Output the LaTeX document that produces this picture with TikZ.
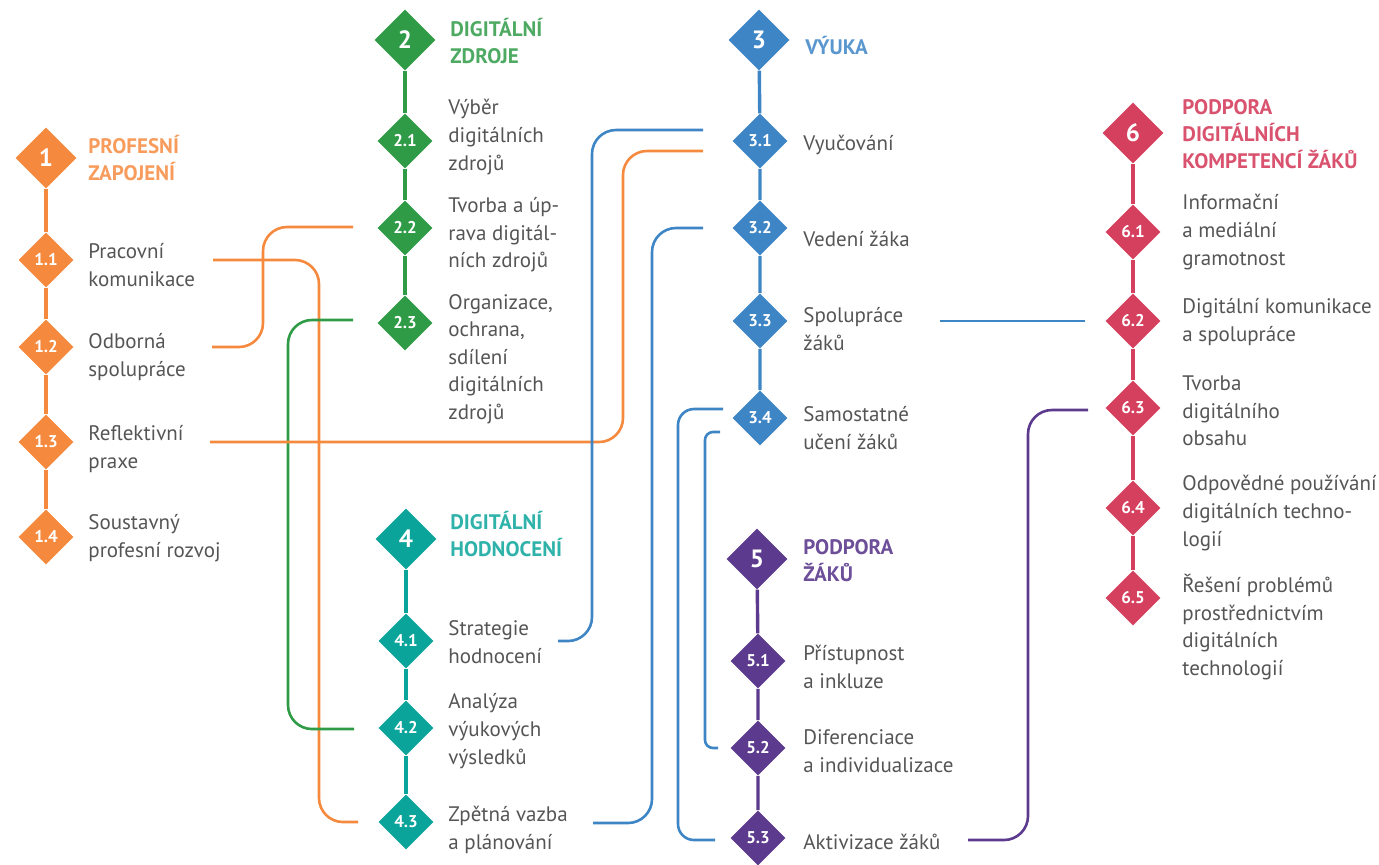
\documentclass[tikz,border=0pt]{standalone}
\usepackage{fontspec}
\setmainfont{PT Sans}
\usetikzlibrary{shapes.geometric,calc}

\definecolor{profcol}{HTML}{F58A3F}
\definecolor{zdrojcol}{HTML}{2F9B47}
\definecolor{vyukacol}{HTML}{3E85C6}
\definecolor{hodncol}{HTML}{0AA49B}
\definecolor{podpcol}{HTML}{5C3A8E}
\definecolor{kompcol}{HTML}{D5405F}
\definecolor{textcol}{HTML}{555555}

\begin{document}
\begin{tikzpicture}[x=0.5pt,y=-0.5pt]

	\tikzstyle{areabox}=[diamond,aspect=1,inner sep=0pt,
		minimum size=30.5pt,text=white,
		font=\bfseries\fontsize{12.5}{12.5}\selectfont]
	\tikzstyle{itembox}=[diamond,aspect=1,inner sep=0pt,
		minimum size=27.5pt,text=white,
		font=\bfseries\fontsize{8.5}{8.5}\selectfont]
	\tikzstyle{heading}=[anchor=west,align=left,inner sep=0pt,
		font=\bfseries\fontsize{10.5}{13.5}\selectfont]
	\tikzstyle{desc}=[anchor=west,align=left,inner sep=0pt,text=textcol,
		font=\fontsize{10.5}{13.8}\selectfont]
	\tikzstyle{spine}=[line width=1.7pt]
	\tikzstyle{link}=[line width=1.3pt,rounded corners=12pt]

	\useasboundingbox (0,0) rectangle (1379,864);

	% 1 profesni zapojeni
	\node[areabox,fill=profcol]	(d1)	at (46,158)	{1};
	\node[itembox,fill=profcol]	(d11)	at (46,260)	{1.1};
	\node[itembox,fill=profcol]	(d12)	at (46,347)	{1.2};
	\node[itembox,fill=profcol]	(d13)	at (46,442)	{1.3};
	\node[itembox,fill=profcol]	(d14)	at (46,537)	{1.4};
	\draw[spine,profcol] (d1) -- (d11) -- (d12) -- (d13) -- (d14);
	\node[heading,text=profcol!85]	(h1)	at (88,158)	{PROFESNÍ\\ZAPOJENÍ};
	\node[desc]	(t11)	at (88,265)	{Pracovní\\komunikace};
	\node[desc]	(t12)	at (88,357)	{Odborná\\spolupráce};
	\node[desc]	(t13)	at (88,449)	{Reflektivní\\praxe};
	\node[desc]	(t14)	at (88,538)	{Soustavný\\profesní rozvoj};

	% 2 digitalni zdroje
	\node[areabox,fill=zdrojcol]	(d2)	at (405,40)	{2};
	\node[itembox,fill=zdrojcol]	(d21)	at (405,141)	{2.1};
	\node[itembox,fill=zdrojcol]	(d22)	at (405,228)	{2.2};
	\node[itembox,fill=zdrojcol]	(d23)	at (405,323)	{2.3};
	\draw[spine,zdrojcol] (d2) -- (d21) -- (d22) -- (d23);
	\node[heading,text=zdrojcol!85]	(h2)	at (450,41)	{DIGITÁLNÍ\\ZDROJE};
	\node[desc]	(t21)	at (448,137)	{Výběr\\digitálních\\zdrojů};
	\node[desc]	(t22)	at (448,235)	{Tvorba a úp-\\rava digitál-\\ních zdrojů};
	\node[desc]	(t23)	at (448,359)	{Organizace,\\ochrana,\\sdílení\\digitálních\\zdrojů};

	% 3 vyuka
	\node[areabox,fill=vyukacol]	(d3)	at (759,40)	{3};
	\node[itembox,fill=vyukacol]	(d31)	at (760,141)	{3.1};
	\node[itembox,fill=vyukacol]	(d32)	at (760,228)	{3.2};
	\node[itembox,fill=vyukacol]	(d33)	at (760,321)	{3.3};
	\node[itembox,fill=vyukacol]	(d34)	at (760,418)	{3.4};
	\draw[spine,vyukacol] (d3) -- (d31) -- (d32) -- (d33) -- (d34);
	\node[heading,text=vyukacol!85]	(h3)	at (805,45)	{VÝUKA};
	\node[desc]	(t31)	at (803,145)	{Vyučování};
	\node[desc]	(t32)	at (803,239)	{Vedení žáka};
	\node[desc]	(t33)	at (803,329)	{Spolupráce\\žáků};
	\node[desc]	(t34)	at (803,428)	{Samostatné\\učení žáků};

	% 4 digitalni hodnoceni
	\node[areabox,fill=hodncol]	(d4)	at (406,539)	{4};
	\node[itembox,fill=hodncol]	(d41)	at (406,641)	{4.1};
	\node[itembox,fill=hodncol]	(d42)	at (406,728)	{4.2};
	\node[itembox,fill=hodncol]	(d43)	at (406,822)	{4.3};
	\draw[spine,hodncol] (d4) -- (d41) -- (d42) -- (d43);
	\node[heading,text=hodncol!85]	(h4)	at (450,534)	{DIGITÁLNÍ\\HODNOCENÍ};
	\node[desc]	(t41)	at (448,642)	{Strategie\\hodnocení};
	\node[desc]	(t42)	at (448,731)	{Analýza\\výukových\\výsledků};
	\node[desc]	(t43)	at (448,830)	{Zpětná vazba\\a plánování};

	% 5 podpora zaku
	\node[areabox,fill=podpcol]	(d5)	at (757,559)	{5};
	\node[itembox,fill=podpcol]	(d51)	at (758,661)	{5.1};
	\node[itembox,fill=podpcol]	(d52)	at (758,748)	{5.2};
	\node[itembox,fill=podpcol]	(d53)	at (758,838)	{5.3};
	\draw[spine,podpcol] (d5) -- (d51) -- (d52) -- (d53);
	\node[heading,text=podpcol!90]	(h5)	at (803,561)	{PODPORA\\ŽÁKŮ};
	\node[desc]	(t51)	at (803,667)	{Přístupnost\\a inkluze};
	\node[desc]	(t52)	at (803,751)	{Diferenciace\\a individualizace};
	\node[desc]	(t53)	at (803,842)	{Aktivizace žáků};

	% 6 podpora digitalnich kompetenci
	\node[areabox,fill=kompcol]	(d6)	at (1133,133)	{6};
	\node[itembox,fill=kompcol]	(d61)	at (1133,232)	{6.1};
	\node[itembox,fill=kompcol]	(d62)	at (1133,321)	{6.2};
	\node[itembox,fill=kompcol]	(d63)	at (1133,408)	{6.3};
	\node[itembox,fill=kompcol]	(d64)	at (1133,508)	{6.4};
	\node[itembox,fill=kompcol]	(d65)	at (1133,598)	{6.5};
	\draw[spine,kompcol] (d6) -- (d61) -- (d62) -- (d63) -- (d64) -- (d65);
	\node[heading,text=kompcol!90]	(h6)	at (1182,134)	{PODPORA\\DIGITÁLNÍCH\\KOMPETENCÍ ŽÁKŮ};
	\node[desc]	(t61)	at (1182,232)	{Informační\\a mediální\\gramotnost};
	\node[desc]	(t62)	at (1182,322)	{Digitální komunikace\\a spolupráce};
	\node[desc]	(t63)	at (1182,411)	{Tvorba\\digitálního\\obsahu};
	\node[desc]	(t64)	at (1182,513)	{Odpovědné používání\\digitálních techno-\\logií};
	\node[desc]	(t65)	at (1182,627)	{Řešení problémů\\prostřednictvím\\digitálních\\technologií};

	% links between the areas
	\draw[link,profcol] ($(d11)+(167,0)$) -| ($(d43)+(-87,0)$) -- ($(d43)+(-48,0)$);
	\draw[link,profcol] ($(d12)+(166,0)$) -| ($(d22)+(-142,-1)$) -- ($(d22)+(-52,-1)$);
	\draw[link,zdrojcol] ($(d23)+(-52,-3)$) -| ($(d42)+(-118,1)$) -- ($(d42)+(-52,1)$);
	\draw[link,profcol] ($(d13)+(164,0)$) -| ($(d31)+(-137,10)$) -- ($(d31)+(-57,10)$);
	\draw[link,vyukacol] ($(d41)+(152,0)$) -| ($(d31)+(-168,-11)$) -- ($(d31)+(-57,-11)$);
	\draw[link,vyukacol] ($(d43)+(187,1)$) -| ($(d32)+(-108,0)$) -- ($(d32)+(-57,0)$);
	\draw[link,vyukacol] ($(d33)+(180,0)$) -- ($(d62)+(-48,0)$);
	\draw[link,vyukacol,rounded corners=8pt] ($(d34)+(-37,-9)$) -| ($(d53)+(-80,2)$) -- ($(d53)+(-43,2)$);
	\draw[link,vyukacol,rounded corners=4pt] ($(d34)+(-40,14)$) -| ($(d52)+(-53,0)$) -- ($(d52)+(-40,0)$);
	\draw[link,podpcol] ($(d53)+(210,2)$) -| ($(d63)+(-105,2)$) -- ($(d63)+(-45,2)$);

\end{tikzpicture}
\end{document}
